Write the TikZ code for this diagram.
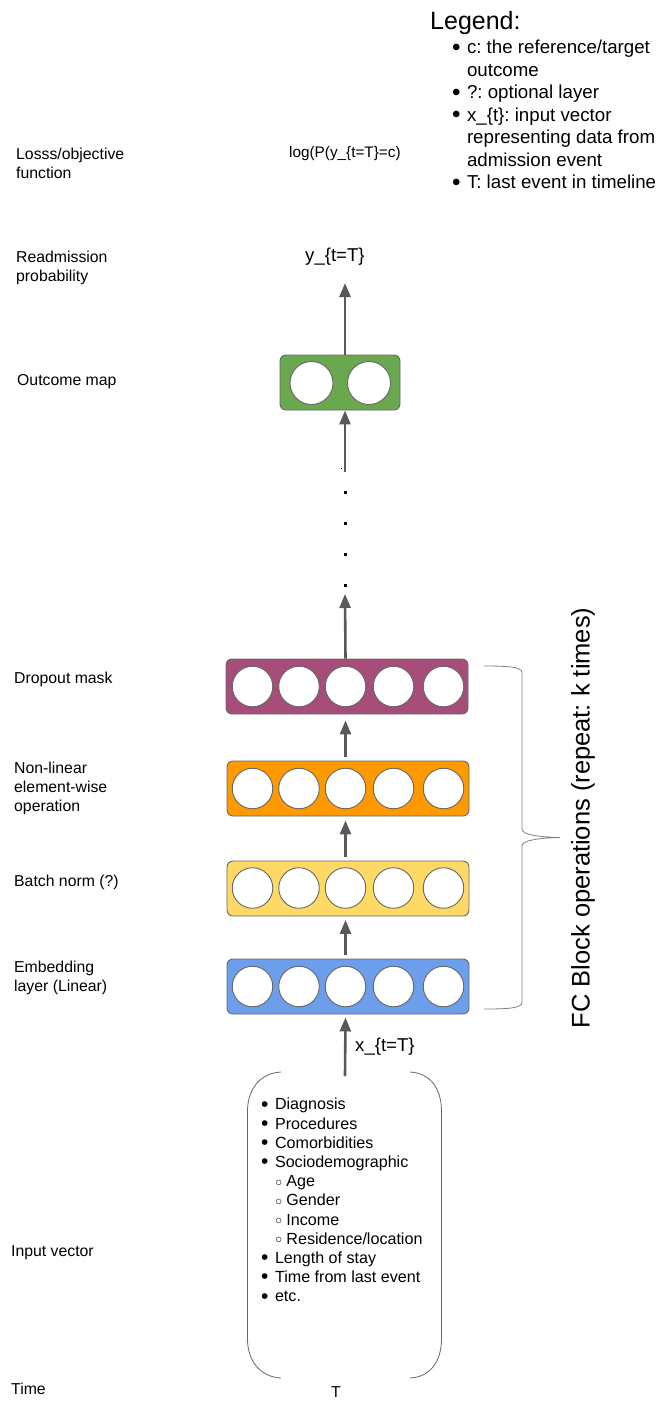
\documentclass[tikz,border=0pt]{standalone}
\usepackage{fontspec}
\setmainfont{Liberation Sans}
\usetikzlibrary{arrows.meta}
\definecolor{edge}{HTML}{666666}
\definecolor{arrowgray}{HTML}{595959}
\definecolor{bracegray}{HTML}{808080}
\definecolor{cgreen}{HTML}{6AA84F}
\definecolor{cpurple}{HTML}{A64D79}
\definecolor{corange}{HTML}{FF9900}
\definecolor{cyellow}{HTML}{FFD966}
\definecolor{cblue}{HTML}{6D9EEB}
\newcommand\mybul{\raisebox{-0.08em}{\scalebox{1.3}{•}}}
\newcommand\mysub{\raisebox{0.4pt}{\fontsize{12}{12}\selectfont ○}}
\frenchspacing
\begin{document}
\begin{tikzpicture}[x=1pt,y=-1pt,
  lbl/.style={anchor=north west, inner sep=0pt, align=left, font=\fontsize{15.8}{19}\selectfont},
  listtext/.style={anchor=north west, inner sep=0pt, align=left, font=\fontsize{16.1}{19.2}\selectfont},
  legendtext/.style={anchor=north west, inner sep=0pt, align=left, font=\fontsize{18.7}{22.5}\selectfont},
  layer/.style={draw=edge, line width=0.9pt, rounded corners=6pt, inner sep=0pt, minimum height=55pt},
  unit/.style={circle, draw=edge, fill=white, line width=0.9pt, minimum size=40.5pt, inner sep=0pt},
  arr/.style={draw=arrowgray, line width=2.6pt, -{Triangle[width=11pt,length=14pt]}},
  dotmark/.style={fill=black, minimum size=3pt, inner sep=0pt}
]
\useasboundingbox (0,0) rectangle (662,1401);

% ---------- left labels ----------
\node[lbl] (lLoss) at (16,148) {Losss/objective\\function};
\node[lbl] (lRead) at (16,251) {Readmission\\probability};
\node[lbl] (lOut) at (17,374) {Outcome map};
\node[lbl] (lDrop) at (14,672) {Dropout mask};
\node[lbl] (lNon) at (14,762) {Non-linear\\element-wise\\operation};
\node[lbl] (lBatch) at (14,875) {Batch norm (?)};
\node[lbl] (lEmb) at (14,961) {Embedding\\layer (Linear)};
\node[lbl] (lIn) at (11,1245) {Input vector};
\node[lbl] (lTime) at (11,1383) {Time};

% ---------- legend ----------
\node[anchor=north west, inner sep=0pt, font=\fontsize{25}{29}\selectfont] (legtitle) at (430,11) {Legend:};
\node[legendtext] (legitems) at (452,40)
  {\mybul\hspace{6.3pt}c: the reference/target\\
   \hphantom{\mybul}\hspace{6.3pt}outcome\\
   \mybul\hspace{6.3pt}?: optional layer\\
   \mybul\hspace{6.3pt}x\_\{t\}: input vector\\
   \hphantom{\mybul}\hspace{6.3pt}representing data from\\
   \hphantom{\mybul}\hspace{6.3pt}admission event\\
   \mybul\hspace{6.3pt}T: last event in timeline};

% ---------- top texts ----------
\node[anchor=west, inner sep=0pt, font=\fontsize{15.3}{18}\selectfont] (loss) at (289,154) {log(P(y\_\{t=T\}=c)};
\node[anchor=west, inner sep=0pt, font=\fontsize{18.6}{22}\selectfont] (yout) at (305,257) {y\_\{t=T\}};

% ---------- outcome map ----------
\node[layer, fill=cgreen, minimum width=120pt] (green) at (340,382.5) {};
\node[unit, minimum size=43pt] (g1) at (311.5,383) {};
\node[unit, minimum size=43pt] (g2) at (369,383) {};

% ---------- FC block layers ----------
\node[layer, fill=cpurple, minimum width=242pt] (drop) at (347,686.5) {};
\node[layer, fill=corange, minimum width=242pt] (nonlin) at (348,788.5) {};
\node[layer, fill=cyellow, minimum width=242pt] (bn) at (348,888.5) {};
\node[layer, fill=cblue, minimum width=242pt] (emb) at (348,986.5) {};

\foreach \L/\y in {drop/686.5, nonlin/788.5, bn/888, emb/986.5}{
  \node[unit] (\L1) at (252.5,\y) {};
  \node[unit] (\L2) at (299,\y) {};
  \node[unit] (\L3) at (345.5,\y) {};
  \node[unit] (\L4) at (393.5,\y) {};
  \node[unit] (\L5) at (443.5,\y) {};
}

% ---------- dots ----------
\coordinate (dotstop) at (345,472);
\coordinate (dotsbot) at (345,594);
\node[dotmark] (d1) at (345,585.5) {};
\node[dotmark] (d2) at (345,554) {};
\node[dotmark] (d3) at (345,523) {};
\node[dotmark] (d4) at (345,492) {};
\node[fill=black, minimum size=1pt, inner sep=0pt] (d5) at (341,468) {};

% ---------- input vector ----------
\coordinate (inTop) at (345,1076);
\node[listtext] (inlist) at (261,1098)
  {\mybul\hspace{6.5pt}Diagnosis\\
   \mybul\hspace{6.5pt}Procedures\\
   \mybul\hspace{6.5pt}Comorbidities\\
   \mybul\hspace{6.5pt}Sociodemographic\\
   \hspace{14pt}\mysub\hspace{4pt}Age\\
   \hspace{14pt}\mysub\hspace{4pt}Gender\\
   \hspace{14pt}\mysub\hspace{4pt}Income\\
   \hspace{14pt}\mysub\hspace{4pt}Residence/location\\
   \mybul\hspace{6.5pt}Length of stay\\
   \mybul\hspace{6.5pt}Time from last event\\
   \mybul\hspace{6.5pt}etc.};
\draw[edge, line width=0.8pt] (281,1072) .. controls (261,1073) and (248,1088) .. (247.5,1110) -- (247.5,1340) .. controls (248,1362) and (261,1377) .. (281,1378);
\draw[edge, line width=0.8pt] (410,1072) .. controls (430,1073) and (441,1088) .. (441.5,1110) -- (441.5,1340) .. controls (441,1362) and (430,1377) .. (410,1378);
\node[anchor=west, inner sep=0pt, font=\fontsize{18.6}{22}\selectfont] (xin) at (355,1047) {x\_\{t=T\}};
\node[inner sep=0pt, font=\fontsize{15.8}{19}\selectfont] (tT) at (336,1392) {T};

% ---------- arrows ----------
\draw[arr] (inTop) -- ([yshift=-3pt]emb.south -| emb3);
\draw[arr, shorten <=4pt, shorten >=3.5pt] (emb.north -| emb3) -- (bn.south -| bn3);
\draw[arr, shorten <=4pt, shorten >=4pt] (bn.north -| bn3) -- (nonlin.south -| nonlin3);
\draw[arr, shorten <=4pt, shorten >=6pt] (nonlin.north -| nonlin3) -- (drop.south -| drop3);
\draw[arr] (drop.north -| drop3) -- (dotsbot);
\draw[arr] (dotstop) -- (green.south -| dotstop);
\draw[arr] (green.north -| dotstop) -- (345,283);

% ---------- brace ----------
\draw[bracegray, line width=0.8pt] (484,666) .. controls (510,666) and (522,667) .. (522,673)
  -- (522,829) .. controls (522,835) and (540,837) .. (560,837.5)
  .. controls (540,838) and (522,840) .. (522,846)
  -- (522,1002) .. controls (522,1008) and (510,1009) .. (484,1009);
\node[rotate=90, inner sep=0pt, font=\fontsize{25.5}{30}\selectfont] (fc) at (583,818) {FC Block operations (repeat: k times)};
\end{tikzpicture}
\end{document}
